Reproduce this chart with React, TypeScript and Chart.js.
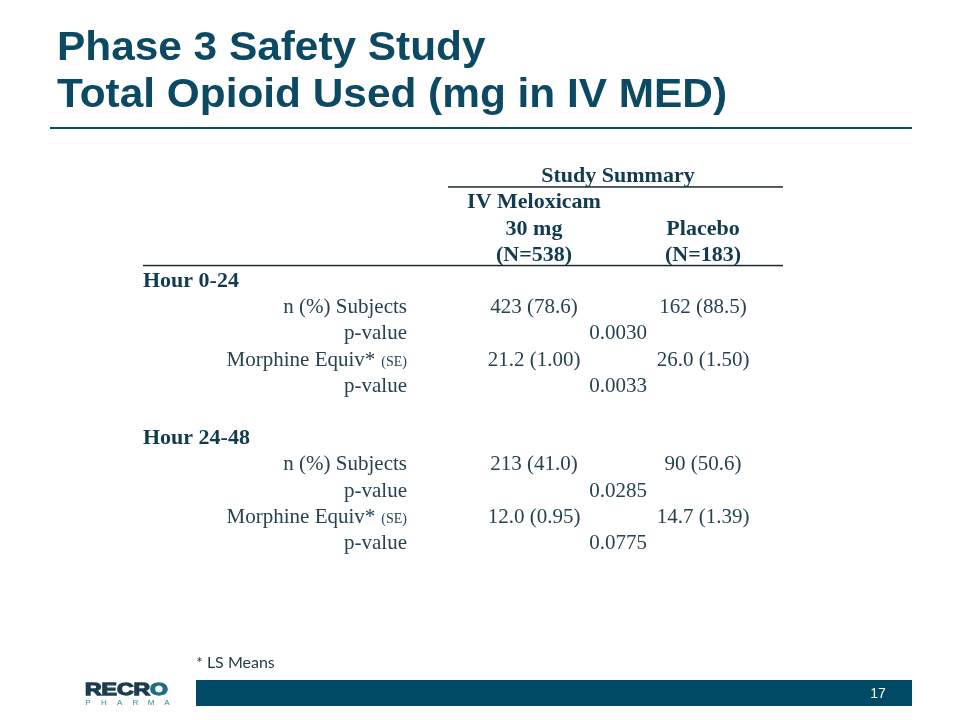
import React, { useEffect, useRef } from "react";
import { Chart, registerables } from "chart.js";

Chart.register(...registerables);

// ---------- data ----------
const titleLines = ["Phase 3 Safety Study", "Total Opioid Used (mg in IV MED)"];
const groupHeader = "Study Summary";
const meloxicamHeader = ["IV Meloxicam", "30 mg", "(N=538)"];
const placeboHeader = ["", "Placebo", "(N=183)"];
const rowLabels = [
  "Hour 0-24",
  "n (%) Subjects",
  "p-value",
  "Morphine Equiv*",
  "p-value",
  "",
  "Hour 24-48",
  "n (%) Subjects",
  "p-value",
  "Morphine Equiv*",
  "p-value",
];
const rowKinds = ["group", "row", "row", "se", "row", "blank", "group", "row", "row", "se", "row"];
const meloxicamValues = ["", "423 (78.6)", "", "21.2 (1.00)", "", "", "", "213 (41.0)", "", "12.0 (0.95)", ""];
const placeboValues = ["", "162 (88.5)", "", "26.0 (1.50)", "", "", "", "90 (50.6)", "", "14.7 (1.39)", ""];
const pValues = ["", "", "0.0030", "", "0.0033", "", "", "", "0.0285", "", "0.0775"];
const seSuffix = "(SE)";
const footnote = "* LS Means";
const pageNumber = "17";
const logoWord = "RECRO";
const logoSub = "PHARMA";

// ---------- layout / style ----------
const W = 960;
const H = 720;
const ROW_PX = 26.2;
const ROW0_PX = 287;
const COL_LABEL_RIGHT = 407;
const COL_GROUP_LEFT = 143;
const COL_MELOX = 534;
const COL_P = 618;
const COL_PLACEBO = 703;
const RULE_SPAN_LEFT = 448;
const RULE_LEFT = 143;
const RULE_RIGHT = 783;

const TITLE_COLOR = "#0c4963";
const BOLD_COLOR = "#113b4f";
const TEXT_COLOR = "#26434f";
const RULE_COLOR = "#1b2a31";
const BAR_COLOR = "#004a65";
const SERIF = '"Liberation Serif", "Times New Roman", serif';
const SANS = '"Liberation Sans", Arial, sans-serif';

const tablePlugin = {
  id: "tableText",
  afterDraw(chart: any) {
    const ctx = chart.ctx as CanvasRenderingContext2D;
    const xs = chart.scales.x;
    const ys = chart.scales.y;
    ctx.save();
    ctx.textBaseline = "alphabetic";

    // title (slightly stretched, as in the slide)
    ctx.fillStyle = TITLE_COLOR;
    ctx.font = `bold 40px ${SANS}`;
    ctx.textAlign = "left";
    const tw = ctx.measureText(titleLines[1]).width;
    const tsx = 670 / tw;
    ctx.save();
    ctx.translate(xs.getPixelForValue(57), 0);
    ctx.scale(tsx, 1);
    ctx.fillText(titleLines[0], 0, 60);
    ctx.fillText(titleLines[1], 0, 107);
    ctx.restore();
    ctx.fillRect(xs.getPixelForValue(50), 127, xs.getPixelForValue(912) - xs.getPixelForValue(50), 2);

    // header texts
    ctx.fillStyle = BOLD_COLOR;
    ctx.font = `bold 22px ${SERIF}`;
    ctx.textAlign = "center";
    ctx.fillText(groupHeader, xs.getPixelForValue(COL_P), ys.getPixelForValue(-4));
    meloxicamHeader.forEach((t, i) => {
      if (t) ctx.fillText(t, xs.getPixelForValue(COL_MELOX), ys.getPixelForValue(-3 + i));
    });
    placeboHeader.forEach((t, i) => {
      if (t) ctx.fillText(t, xs.getPixelForValue(COL_PLACEBO), ys.getPixelForValue(-3 + i));
    });

    // rules
    ctx.fillStyle = RULE_COLOR;
    const r1 = ys.getPixelForValue(-4) + 4;
    ctx.fillRect(xs.getPixelForValue(RULE_SPAN_LEFT), r1, xs.getPixelForValue(RULE_RIGHT) - xs.getPixelForValue(RULE_SPAN_LEFT), 1.5);
    const r2 = ys.getPixelForValue(-1) + 4;
    ctx.fillRect(xs.getPixelForValue(RULE_LEFT), r2, xs.getPixelForValue(RULE_RIGHT) - xs.getPixelForValue(RULE_LEFT), 1.5);

    // cells from dataset elements
    chart.data.datasets.forEach((ds: any, di: number) => {
      const meta = chart.getDatasetMeta(di);
      meta.data.forEach((el: any, i: number) => {
        const txt = ds.texts[i];
        if (!txt) return;
        const kind = ds.kinds ? ds.kinds[i] : "row";
        if (kind === "group") {
          ctx.font = `bold 22px ${SERIF}`;
          ctx.fillStyle = BOLD_COLOR;
          ctx.textAlign = "left";
          ctx.fillText(txt, xs.getPixelForValue(COL_GROUP_LEFT), el.y);
          return;
        }
        ctx.fillStyle = TEXT_COLOR;
        if (kind === "se") {
          ctx.font = `14px ${SERIF}`;
          ctx.textAlign = "right";
          ctx.fillText(seSuffix, el.x, el.y);
          const sw = ctx.measureText(seSuffix).width;
          ctx.font = `21px ${SERIF}`;
          ctx.fillText(txt, el.x - sw - 6, el.y);
          return;
        }
        ctx.font = `21px ${SERIF}`;
        ctx.textAlign = ds.align || "center";
        ctx.fillText(txt, el.x, el.y);
      });
    });

    // footnote
    ctx.fillStyle = "#1f3947";
    ctx.font = `16px Lato, "Open Sans", sans-serif`;
    ctx.textAlign = "left";
    ctx.fillText(footnote, 196, 668);

    // footer bar
    ctx.fillStyle = BAR_COLOR;
    ctx.fillRect(196, 680, 716, 26);
    ctx.fillStyle = "#ffffff";
    ctx.font = `14px ${SANS}`;
    ctx.textAlign = "center";
    ctx.fillText(pageNumber, 878, 698);

    // logo
    ctx.font = `bold 17px ${SANS}`;
    ctx.textAlign = "left";
    const wordW = ctx.measureText(logoWord).width;
    const sx = 83 / wordW;
    ctx.save();
    ctx.translate(85, 694.5);
    ctx.scale(sx, 1);
    ctx.lineWidth = 1.3;
    ctx.lineJoin = "miter";
    const head = logoWord.slice(0, -1);
    ctx.fillStyle = "#1c3d4e";
    ctx.strokeStyle = "#1c3d4e";
    ctx.fillText(head, 0, 0);
    ctx.strokeText(head, 0, 0);
    const hw = ctx.measureText(head).width;
    ctx.fillStyle = "#1f6f86";
    ctx.strokeStyle = "#1f6f86";
    ctx.fillText(logoWord.slice(-1), hw, 0);
    ctx.strokeText(logoWord.slice(-1), hw, 0);
    ctx.restore();
    ctx.fillStyle = "#2a8aa0";
    ctx.font = `8px ${SANS}`;
    ctx.textAlign = "center";
    const letters = logoSub.split("");
    letters.forEach((c, i) => {
      ctx.fillText(c, 88 + (i * (167 - 88)) / (letters.length - 1), 705);
    });

    ctx.restore();
  },
};

export default function App() {
  const ref = useRef<HTMLCanvasElement | null>(null);
  useEffect(() => {
    if (!ref.current) return;
    const idx = rowLabels.map((_, i) => i);
    const chart = new Chart(ref.current, {
      type: "scatter",
      data: {
        datasets: [
          {
            label: "labels",
            data: idx.map((i) => ({ x: COL_LABEL_RIGHT, y: i })),
            texts: rowLabels,
            kinds: rowKinds,
            align: "right",
            pointRadius: 0,
          } as any,
          {
            label: "IV Meloxicam 30 mg",
            data: idx.map((i) => ({ x: COL_MELOX, y: i })),
            texts: meloxicamValues,
            align: "center",
            pointRadius: 0,
          } as any,
          {
            label: "p-value",
            data: idx.map((i) => ({ x: COL_P, y: i })),
            texts: pValues,
            align: "center",
            pointRadius: 0,
          } as any,
          {
            label: "Placebo",
            data: idx.map((i) => ({ x: COL_PLACEBO, y: i })),
            texts: placeboValues,
            align: "center",
            pointRadius: 0,
          } as any,
        ],
      },
      options: {
        animation: false,
        responsive: false,
        layout: { padding: 0 },
        events: [],
        plugins: { legend: { display: false }, title: { display: false }, tooltip: { enabled: false } },
        scales: {
          x: { type: "linear", min: 0, max: W, display: false },
          y: {
            type: "linear",
            reverse: true,
            min: -ROW0_PX / ROW_PX,
            max: (H - ROW0_PX) / ROW_PX,
            display: false,
          },
        },
      },
      plugins: [tablePlugin],
    });
    return () => chart.destroy();
  }, []);
  return (
    <div style={{ position: "fixed", left: 0, top: 0, width: W, height: H, background: "#ffffff" }}>
      <canvas ref={ref} width={W} height={H} style={{ display: "block" }} />
    </div>
  );
}
